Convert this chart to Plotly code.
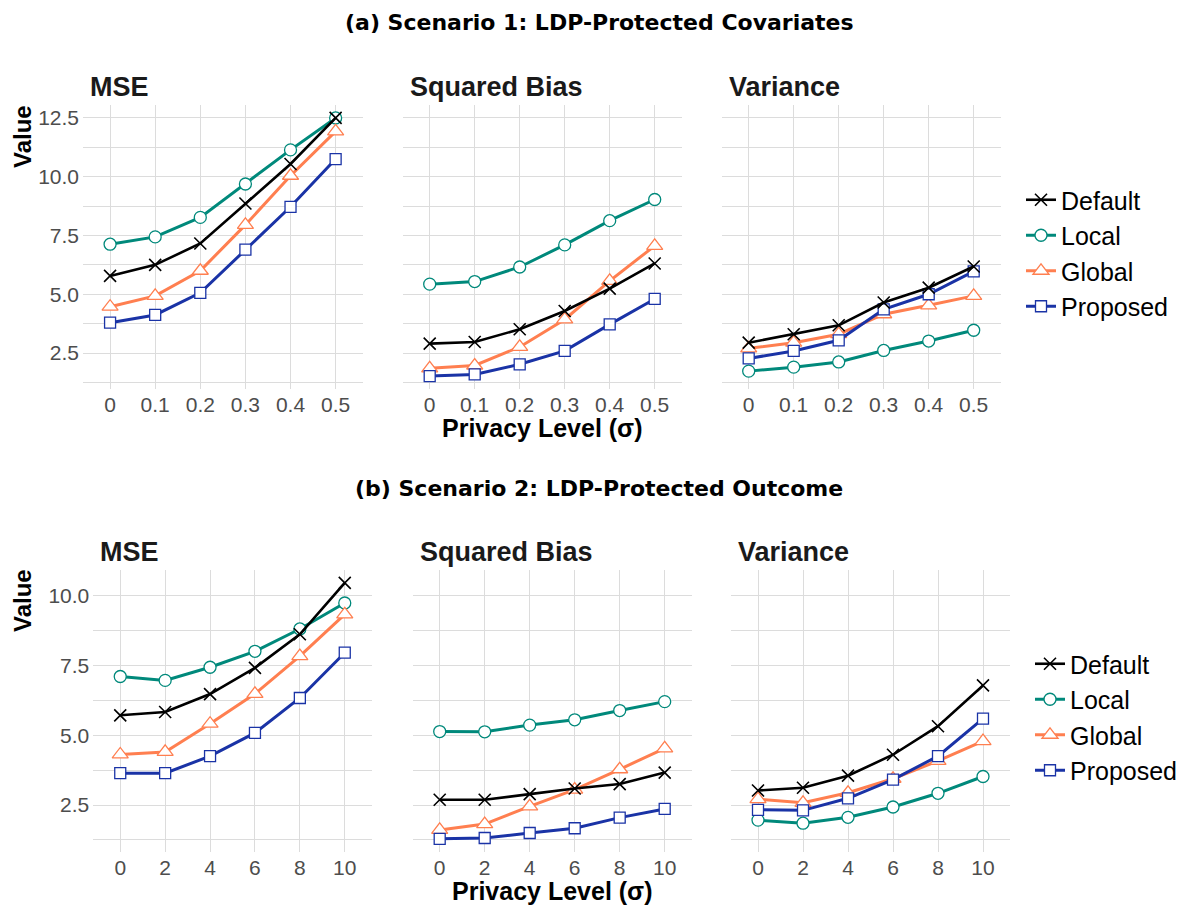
import plotly.graph_objects as go

# The page body adds an 8px margin; the figure is sized so that it ends at the window edge.
OFF = 8
W, H = 1190 - OFF, 905 - OFF

# ---------------- data ----------------
methods = ["Default", "Local", "Global", "Proposed"]
metrics = ["MSE", "Squared Bias", "Variance"]

sigma_s1 = ["0", "0.1", "0.2", "0.3", "0.4", "0.5"]
sigma_s2 = ["0", "2", "4", "6", "8", "10"]

# Scenario 1: LDP-protected covariates
s1_mse_default = [5.78, 6.25, 7.16, 8.86, 10.54, 12.50]
s1_mse_local = [7.13, 7.44, 8.27, 9.69, 11.14, 12.50]
s1_mse_global = [4.47, 4.93, 6.00, 7.95, 10.04, 11.93]
s1_mse_proposed = [3.79, 4.12, 5.06, 6.90, 8.72, 10.75]

s1_bias_default = [2.90, 2.97, 3.51, 4.29, 5.24, 6.31]
s1_bias_local = [5.43, 5.54, 6.16, 7.10, 8.13, 9.03]
s1_bias_global = [1.85, 1.97, 2.76, 3.93, 5.57, 7.06]
s1_bias_proposed = [1.52, 1.59, 2.02, 2.59, 3.72, 4.80]

s1_var_default = [2.94, 3.30, 3.68, 4.65, 5.28, 6.18]
s1_var_local = [1.73, 1.90, 2.12, 2.61, 3.01, 3.47]
s1_var_global = [2.70, 2.94, 3.30, 4.15, 4.53, 4.93]
s1_var_proposed = [2.27, 2.59, 3.04, 4.36, 5.00, 5.97]

# Scenario 2: LDP-protected outcome
s2_mse_default = [5.71, 5.83, 6.47, 7.41, 8.61, 10.45]
s2_mse_local = [7.10, 6.96, 7.43, 8.00, 8.80, 9.73]
s2_mse_global = [4.31, 4.40, 5.41, 6.48, 7.83, 9.32]
s2_mse_proposed = [3.64, 3.64, 4.25, 5.08, 6.33, 7.95]

s2_bias_default = [2.69, 2.69, 2.89, 3.09, 3.25, 3.66]
s2_bias_local = [5.13, 5.12, 5.36, 5.55, 5.88, 6.20]
s2_bias_global = [1.61, 1.82, 2.45, 3.05, 3.78, 4.53]
s2_bias_proposed = [1.29, 1.32, 1.50, 1.67, 2.05, 2.36]

s2_var_default = [3.02, 3.12, 3.55, 4.30, 5.32, 6.78]
s2_var_local = [1.96, 1.85, 2.06, 2.43, 2.92, 3.52]
s2_var_global = [2.71, 2.58, 2.94, 3.44, 4.08, 4.79]
s2_var_proposed = [2.33, 2.31, 2.74, 3.41, 4.25, 5.59]

y_ticks_s1 = [2.5, 5.0, 7.5, 10.0, 12.5]
y_ticks_s2 = [2.5, 5.0, 7.5, 10.0]

rows = [
    {
        "x": sigma_s1,
        "title": "(a) Scenario 1: LDP-Protected Covariates",
        "yticks": y_ticks_s1,
        "yrange": [0.97, 13.05],
        "series": [
            {"Default": s1_mse_default, "Local": s1_mse_local, "Global": s1_mse_global, "Proposed": s1_mse_proposed},
            {"Default": s1_bias_default, "Local": s1_bias_local, "Global": s1_bias_global, "Proposed": s1_bias_proposed},
            {"Default": s1_var_default, "Local": s1_var_local, "Global": s1_var_global, "Proposed": s1_var_proposed},
        ],
    },
    {
        "x": sigma_s2,
        "title": "(b) Scenario 2: LDP-Protected Outcome",
        "yticks": y_ticks_s2,
        "yrange": [0.83, 10.91],
        "series": [
            {"Default": s2_mse_default, "Local": s2_mse_local, "Global": s2_mse_global, "Proposed": s2_mse_proposed},
            {"Default": s2_bias_default, "Local": s2_bias_local, "Global": s2_bias_global, "Proposed": s2_bias_proposed},
            {"Default": s2_var_default, "Local": s2_var_local, "Global": s2_var_global, "Proposed": s2_var_proposed},
        ],
    },
]

# ---------------- styles ----------------
style = {
    "Default": dict(color="#000000", symbol="x-thin", size=12, width=2.6, fill="#000000", lw=1.6),
    "Local": dict(color="#00897B", symbol="circle", size=12, width=3, fill="#FFFFFF", lw=1.3),
    "Global": dict(color="#FF7F50", symbol="triangle-up", size=14, width=3, fill="#FFFFFF", lw=1.3),
    "Proposed": dict(color="#1A33A6", symbol="square", size=11, width=3, fill="#FFFFFF", lw=1.3),
}
draw_order = ["Local", "Global", "Proposed", "Default"]
legend_rank = {m: i + 1 for i, m in enumerate(methods)}

# panel geometry in window pixels (left, right) and (top, bottom)
panel_x = [
    [(83, 362.7), (402.7, 681.7), (721.7, 1000.7)],
    [(93.3, 371.7), (412.7, 691.7), (731, 1010)],
]
panel_y = [(105, 389), (570, 851.7)]

px = lambda v: (v - OFF) / W
py = lambda v: 1 - (v - OFF) / H

GRID = "#DCDCDC"
TICKC = "#4D4D4D"
SANS = "Liberation Sans, Arial"

fig = go.Figure()
layout = {}
annotations = []

for r, row in enumerate(rows):
    for c in range(3):
        idx = r * 3 + c + 1
        xa = "x" if idx == 1 else f"x{idx}"
        ya = "y" if idx == 1 else f"y{idx}"
        xl = "xaxis" if idx == 1 else f"xaxis{idx}"
        yl = "yaxis" if idx == 1 else f"yaxis{idx}"
        (x0, x1) = panel_x[r][c]
        (y0, y1) = panel_y[r]
        layout[xl] = dict(
            domain=[px(x0), px(x1)], anchor=ya, type="category",
            categoryorder="array", categoryarray=row["x"],
            range=[-0.6, 5.6], showgrid=True, gridcolor=GRID, gridwidth=1.2,
            zeroline=False, showline=False, ticks="",
            tickfont=dict(family=SANS, size=21, color=TICKC),
            ticklabelstandoff=1,
        )
        layout[yl] = dict(
            domain=[py(y1), py(y0)], anchor=xa, range=row["yrange"],
            tickvals=row["yticks"], tickformat=".1f",
            showticklabels=(c == 0), showgrid=True, gridcolor=GRID, gridwidth=1.2,
            minor=dict(dtick=1.25, tick0=0, showgrid=True, gridcolor=GRID, gridwidth=1.2),
            zeroline=False, showline=False, ticks="",
            tickfont=dict(family=SANS, size=21, color=TICKC),
            ticklabelstandoff=3,
        )
        for m in draw_order:
            s = style[m]
            fig.add_trace(go.Scatter(
                x=row["x"], y=row["series"][c][m], xaxis=xa, yaxis=ya,
                mode="lines+markers", name=m,
                line=dict(color=s["color"], width=s["width"]),
                marker=dict(symbol=s["symbol"], size=s["size"], color=s["fill"],
                            line=dict(color=s["color"], width=s["lw"])),
                legend="legend" if r == 0 else "legend2",
                legendrank=legend_rank[m],
                showlegend=(c == 2),
            ))
        # panel title
        annotations.append(dict(
            text=f"<b>{metrics[c]}</b>", xref="paper", yref="paper",
            x=px(x0 + 5), y=py(y0 - 18), xanchor="left", yanchor="middle",
            showarrow=False, font=dict(family=SANS, size=27, color="#1A1A1A"),
        ))
    # row title
    annotations.append(dict(
        text=f"<b>{row['title']}</b>", xref="paper", yref="paper",
        x=px(599), y=py(22 if r == 0 else 488), xanchor="center", yanchor="middle",
        showarrow=False, font=dict(family="DejaVu Sans", size=22, color="#000000"),
    ))
    # y-axis title
    annotations.append(dict(
        text="<b>Value</b>", xref="paper", yref="paper", textangle=-90,
        x=px(22), y=py(137 if r == 0 else 601), xanchor="center", yanchor="middle",
        showarrow=False, font=dict(family=SANS, size=24, color="#000000"),
    ))
    # x-axis title
    mx = (panel_x[r][1][0] + panel_x[r][1][1]) / 2
    annotations.append(dict(
        text="<b>Privacy Level (σ)</b>", xref="paper", yref="paper",
        x=px(mx), y=py(428 if r == 0 else 891), xanchor="center", yanchor="middle",
        showarrow=False, font=dict(family=SANS, size=25, color="#000000"),
    ))

legend_common = dict(
    xanchor="left", yanchor="middle", bgcolor="rgba(0,0,0,0)",
    font=dict(family=SANS, size=25, color="#000000"),
    itemwidth=30, tracegroupgap=0, borderwidth=0,
)
layout["legend"] = dict(x=px(1021), y=py(253), **legend_common)
layout["legend2"] = dict(x=px(1030), y=py(717), **legend_common)

fig.update_layout(
    width=W, height=H, margin=dict(l=0, r=0, t=0, b=0),
    paper_bgcolor="white", plot_bgcolor="white",
    annotations=annotations, **layout,
)

fig.write_html("out.html")
